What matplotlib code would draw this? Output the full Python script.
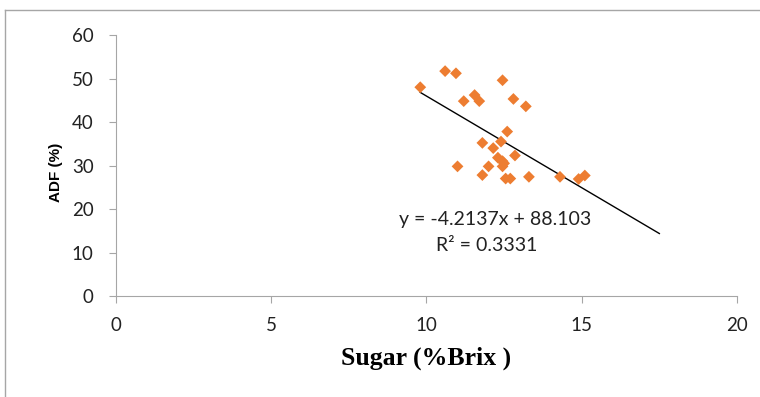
import numpy as np
import matplotlib
matplotlib.use("Agg")
import matplotlib.pyplot as plt
from matplotlib.lines import Line2D

# data
sugar = [9.8, 10.6, 10.95, 12.45, 11.2, 11.55, 11.7, 12.8, 13.2, 12.6,
         11.8, 12.4, 12.15, 12.3, 12.45, 12.45, 12.85, 11.0, 12.0, 11.8,
         12.55, 12.7, 13.3, 14.3, 14.9, 15.1, 12.5]
adf = [48.0, 51.7, 51.2, 49.6, 44.8, 46.2, 44.8, 45.3, 43.6, 37.8,
       35.2, 35.5, 34.0, 31.8, 31.0, 29.8, 32.3, 29.8, 29.8, 27.8,
       27.0, 27.0, 27.4, 27.4, 26.9, 27.7, 30.5]
slope, intercept = -4.2137, 88.103
r2 = 0.3331
trend_end = 17.5

grey = "#a6a6a6"
orange = "#ED7D31"

fig = plt.figure(figsize=(7.6, 3.97), dpi=100)
ax = fig.add_axes([0.1526, 0.2544, 0.8171, 0.6574])

# outer frame (top and left only)
fig.add_artist(Line2D([0.0066, 1.0], [0.975, 0.975], transform=fig.transFigure, color=grey, lw=1))
fig.add_artist(Line2D([0.0066, 0.0066], [0.0, 0.975], transform=fig.transFigure, color=grey, lw=1))

ax.scatter(sugar, adf, marker="D", s=36, color=orange, edgecolors="none", zorder=3)

xt = np.array([min(sugar), trend_end])
ax.plot(xt, slope * xt + intercept, color="black", lw=1, zorder=2)

ax.set_xlim(0, 20)
ax.set_ylim(0, 60)
ax.set_xticks([0, 5, 10, 15, 20])
ax.set_yticks(range(0, 61, 10))

for side in ["top", "right"]:
    ax.spines[side].set_visible(False)
for side in ["left", "bottom"]:
    ax.spines[side].set_color(grey)
ax.tick_params(direction="out", length=5, color=grey, labelsize=13.5,
               labelcolor="#222222")
ax.tick_params(axis="x", pad=10)
ax.tick_params(axis="y", pad=11)
for lbl in ax.get_xticklabels() + ax.get_yticklabels():
    lbl.set_family("Lato")

ax.set_xlabel("Sugar (%Brix )", family="Liberation Serif", fontweight="bold",
              fontsize=18.5, labelpad=9)
ax.set_ylabel("ADF (%)", family="Liberation Sans", fontweight="bold",
              fontsize=11)
ax.yaxis.set_label_coords(-0.085, 0.475)

ax.text(12.2, 17.5, f"y = {slope}x + {intercept}", ha="center", va="center",
        family="Lato", fontsize=14, color="#222222")
ax.text(11.95, 11.7, f"R² = {r2}", ha="center", va="center",
        family="Lato", fontsize=14, color="#222222")

fig.savefig("out.png", dpi=100)
